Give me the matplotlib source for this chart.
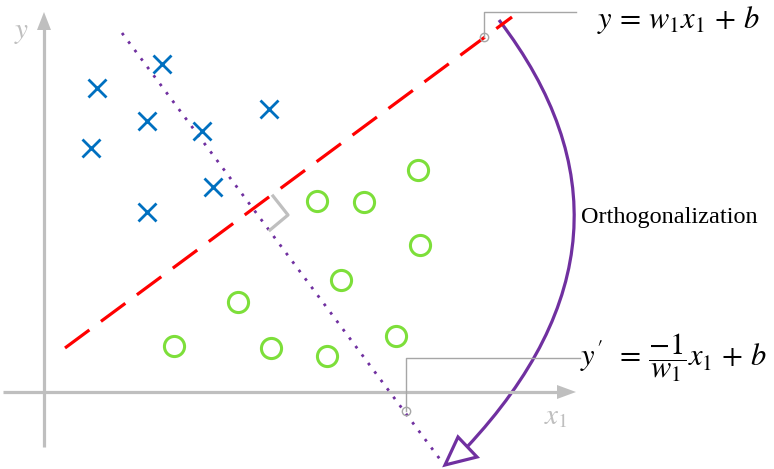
import numpy as np
import matplotlib.pyplot as plt
from matplotlib.patches import Polygon
from matplotlib.path import Path
from matplotlib.patches import PathPatch

plt.rcParams['mathtext.fontset'] = 'stix'

# data (pixel coordinates of the diagram, y grows downward)
cross_x = [97, 162, 147, 202, 269, 91, 213, 147]
cross_y = [88, 64, 121, 131, 109, 148, 187, 212]
circle_x = [418, 317, 364, 420, 341, 238, 174, 271, 327, 396]
circle_y = [170, 201, 202, 245, 280, 302, 346, 348, 356, 336]

# separating line and its orthogonal line (end points)
line_x = [65, 512]
line_y = [348, 17]
orth_x = [122, 442]
orth_y = [33, 462]

GRAY = '#bfbfbf'
BLUE = '#0070c0'
GREEN = '#7ddf3a'
RED = '#ff0000'
PURPLE = '#7030a0'

fig = plt.figure(figsize=(7.74, 4.69), dpi=100)
ax = fig.add_axes([0, 0, 1, 1])
ax.set_xlim(0, 774)
ax.set_ylim(469, 0)
ax.axis('off')

# axes with arrow heads
ax.plot([44, 44], [447, 28], color=GRAY, lw=2.3, solid_capstyle='butt')
ax.add_patch(Polygon([[44, 12], [37, 30], [51, 30]], closed=True, color=GRAY, lw=0))
ax.plot([3, 558], [392, 392], color=GRAY, lw=2.3, solid_capstyle='butt')
ax.add_patch(Polygon([[576, 392], [557, 385], [557, 399]], closed=True, color=GRAY, lw=0))
ax.text(22, 32, r'$y$', fontsize=21, color=GRAY, ha='center', va='center')
ax.text(556, 416, r'$x_1$', fontsize=21, color=GRAY, ha='center', va='center')

# lines
ax.plot(line_x, line_y, color=RED, lw=2.3, linestyle=(0, (9.5, 4.5)))
ax.plot(orth_x, orth_y, color=PURPLE, lw=2.0, linestyle=(0, (1, 2.8)))

# right angle marker
ax.plot([273, 288, 270], [196, 215, 230], color=GRAY, lw=2.3)

# points
ax.plot(cross_x, cross_y, 'x', color=BLUE, markersize=13, mew=2.0, linestyle='none')
ax.plot(circle_x, circle_y, 'o', mfc='none', mec=GREEN, markersize=14.5, mew=2.2, linestyle='none')

# callouts
ax.plot([484, 484, 576], [37, 12, 12], color='#a6a6a6', lw=1)
ax.plot([484], [37], 'o', mfc='none', mec='#a6a6a6', markersize=6, mew=1)
ax.plot([406, 406, 580], [411, 358, 358], color='#a6a6a6', lw=1)
ax.plot([406], [411], 'o', mfc='none', mec='#a6a6a6', markersize=6, mew=1)

ax.text(597, 20, r'$y\,=\,w_1 x_1\,+\,b$', fontsize=22, color='black', ha='left', va='center')
ax.text(580, 358, r"$y^{\prime}\ \,=\,\dfrac{-1}{w_1}x_1\,+\,b$", fontsize=22, color='black',
        ha='left', va='center')
ax.text(581, 218, 'Orthogonalization', fontsize=17.5, family='Liberation Serif',
        ha='left', va='center')

# curved arrow
arc = Path([(499, 20), (664, 236), (467, 447)], [Path.MOVETO, Path.CURVE3, Path.CURVE3])
ax.add_patch(PathPatch(arc, fc='none', ec=PURPLE, lw=2.3))
ax.add_patch(Polygon([[445, 465], [458, 437], [477, 457]], closed=True, fc='white',
                     ec=PURPLE, lw=2.3, joinstyle='miter'))

fig.savefig('out.png', dpi=100)
